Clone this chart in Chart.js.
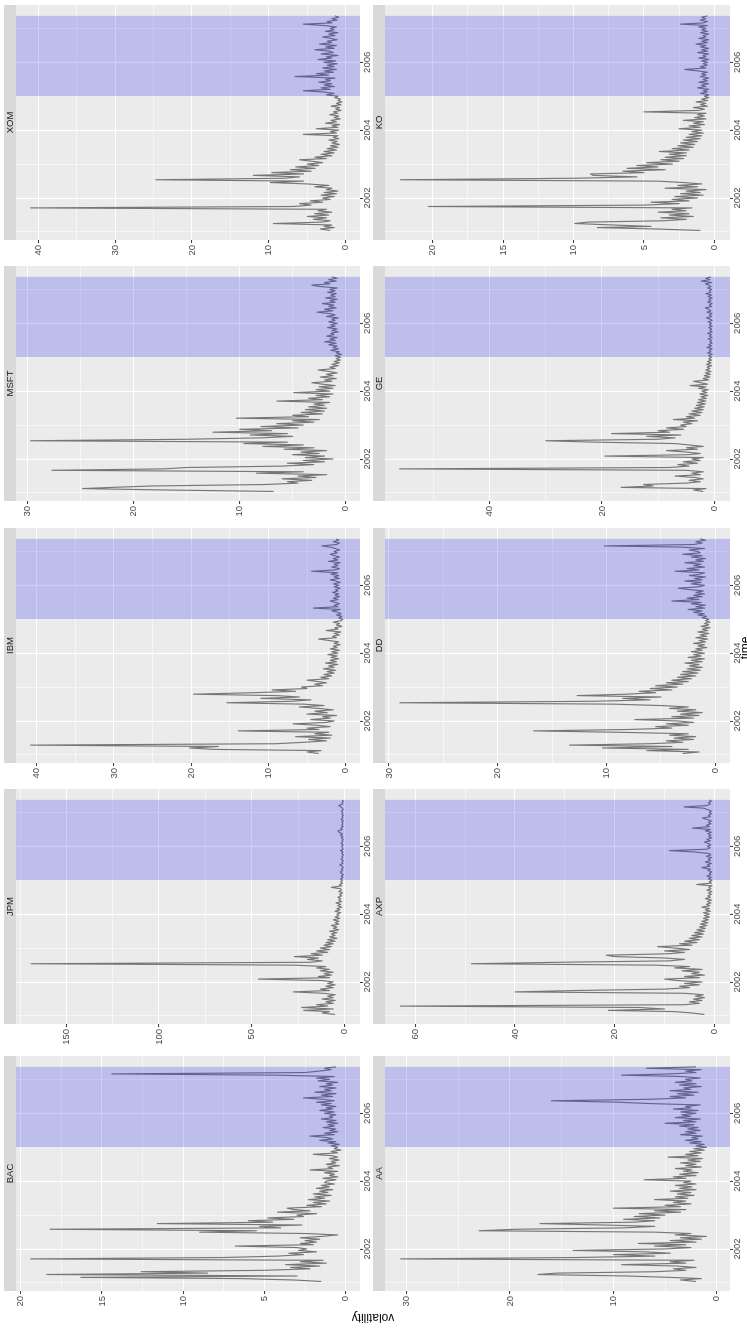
<!DOCTYPE html>
<html><head><meta charset="utf-8">
<script src="https://cdn.jsdelivr.net/npm/chart.js@4.4.1/dist/chart.umd.min.js"></script>
<style>
html,body{margin:0;padding:0;background:#fff;width:747px;height:1328px;overflow:hidden;}
#root{position:absolute;left:0;top:0;width:1328px;height:747px;transform-origin:0 0;transform:translate(0px,1328px) rotate(-90deg);background:#fff;overflow:hidden;}
#root canvas{position:absolute;}
.ttl{position:absolute;font-family:"Liberation Sans",Arial,sans-serif;font-size:12px;line-height:12px;color:#000;white-space:nowrap;text-align:center;}
</style></head><body>
<div id="root"></div>
<script>
// ---------- data ----------
const tickers = ["BAC","JPM","IBM","MSFT","XOM","AA","AXP","DD","GE","KO"];

const dates = [
"2001-01-16","2001-02-01","2001-02-16","2001-03-01","2001-03-16","2001-04-01","2001-04-16","2001-05-01","2001-05-16","2001-06-01","2001-06-16","2001-07-01","2001-07-16","2001-08-01","2001-08-16","2001-09-01","2001-09-16","2001-10-01","2001-10-16","2001-11-01","2001-11-16","2001-12-01","2001-12-16",
"2002-01-01","2002-01-16","2002-02-01","2002-02-16","2002-03-01","2002-03-16","2002-04-01","2002-04-16","2002-05-01","2002-05-16","2002-06-01","2002-06-16","2002-07-01","2002-07-16","2002-08-01","2002-08-16","2002-09-01","2002-09-16","2002-10-01","2002-10-16","2002-11-01","2002-11-16","2002-12-01","2002-12-16",
"2003-01-01","2003-01-16","2003-02-01","2003-02-16","2003-03-01","2003-03-16","2003-04-01","2003-04-16","2003-05-01","2003-05-16","2003-06-01","2003-06-16","2003-07-01","2003-07-16","2003-08-01","2003-08-16","2003-09-01","2003-09-16","2003-10-01","2003-10-16","2003-11-01","2003-11-16","2003-12-01","2003-12-16",
"2004-01-01","2004-01-16","2004-02-01","2004-02-16","2004-03-01","2004-03-16","2004-04-01","2004-04-16","2004-05-01","2004-05-16","2004-06-01","2004-06-16","2004-07-01","2004-07-16","2004-08-01","2004-08-16","2004-09-01","2004-09-16","2004-10-01","2004-10-16","2004-11-01","2004-11-16","2004-12-01","2004-12-16",
"2005-01-01","2005-01-16","2005-02-01","2005-02-16","2005-03-01","2005-03-16","2005-04-01","2005-04-16","2005-05-01","2005-05-16","2005-06-01","2005-06-16","2005-07-01","2005-07-16","2005-08-01","2005-08-16","2005-09-01","2005-09-16","2005-10-01","2005-10-16","2005-11-01","2005-11-16","2005-12-01","2005-12-16",
"2006-01-01","2006-01-16","2006-02-01","2006-02-16","2006-03-01","2006-03-16","2006-04-01","2006-04-16","2006-05-01","2006-05-16","2006-06-01","2006-06-16","2006-07-01","2006-07-16","2006-08-01","2006-08-16","2006-09-01","2006-09-16","2006-10-01","2006-10-16","2006-11-01","2006-11-16","2006-12-01","2006-12-16",
"2007-01-01","2007-01-16","2007-02-01","2007-02-16","2007-03-01","2007-03-16","2007-04-01","2007-04-16","2007-05-01","2007-05-16"
];

const BAC = [
1.5,3.2,6.4,16.3,3.0,18.4,8.5,12.6,5.0,2.2,3.4,1.6,3.7,1.2,2.8,1.4,19.4,7.5,4.2,2.6,3.5,1.8,2.9,
2.4,3.0,6.8,2.0,2.8,1.8,2.5,1.6,2.8,1.5,0.5,2.4,9.0,5.5,18.2,4.0,5.3,2.7,11.6,4.5,6.0,3.2,4.8,2.6,
3.0,1.8,4.2,2.2,3.2,3.6,1.5,2.4,1.2,2.0,1.0,2.3,1.3,1.9,0.9,2.0,1.1,1.6,0.8,1.8,1.0,1.5,0.7,1.3,
1.2,0.6,1.4,0.5,1.0,0.7,1.3,0.5,2.2,0.8,1.1,0.4,1.2,0.6,0.9,0.4,1.0,0.5,0.8,2.0,0.5,0.9,0.3,0.7,
0.5,0.9,0.4,1.1,0.6,1.6,0.8,1.2,2.2,0.7,1.3,0.5,1.0,0.6,1.4,0.7,1.1,0.5,1.2,0.6,1.5,0.8,1.0,0.6,
1.3,0.7,1.6,0.8,1.2,0.6,1.5,0.9,1.8,0.7,1.4,2.6,0.8,1.5,0.6,1.9,0.9,1.3,0.6,1.6,0.8,1.2,0.5,1.7,
1.0,1.8,0.7,4.3,14.4,2.5,1.6,0.9,1.3,0.6];

const JPM = [
5,12,8,22,6,23,9,15,6,10,5,12,6,9,5,11,27.5,8,13,6,10,5,9,
6,12,46.4,8,14,7,11,6,13,8,15,10,27,169,18,12,20,14,27,12,18,9,15,8,
13,7,11,6,10,5,9,4,8,5,7,4,8,3,6,4,7,3,5,3,6,2.5,5,3,
4,2,5,2.5,4,1.5,3.5,2,4.5,1.5,3,2,3.5,1.5,2.5,1,3,1.5,2,7,1.5,2.5,1,2,
1,2,0.8,1.6,0.7,1.4,2.2,0.9,1.5,0.6,1.2,2.4,0.8,1.3,0.6,1.8,0.9,1.2,0.5,1.5,0.8,2.0,0.7,1.1,
1.4,0.7,1.8,0.9,1.2,0.6,1.6,0.8,2.2,1.0,2.8,3.5,1.1,1.9,0.7,1.5,0.8,1.3,0.6,1.7,0.8,1.2,0.5,1.4,
0.9,1.5,0.6,1.2,1.8,3.0,0.8,1.3,0.6,1.0];

const IBM = [
3.5,5.0,3.2,17,20.2,16.5,40.8,9.0,5.5,2.5,4.8,2.0,6.5,1.8,4.0,2.2,13.9,3.5,5.0,2.0,3.8,6.8,2.5,
1.5,4.5,2.0,3.0,1.2,5.0,2.4,4.0,1.6,3.5,6.0,2.8,5.5,15.4,7.0,4.5,11.0,6.0,9.0,19.7,12.0,6.5,9.5,5.0,
5.7,3.0,4.0,2.5,3.6,5.0,2.2,3.2,1.8,2.8,1.5,2.4,1.3,2.9,1.5,2.2,1.0,2.6,1.2,2.0,0.9,1.9,1.1,2.3,
1.0,1.8,0.8,2.0,1.1,1.6,0.7,1.5,0.9,2.1,3.5,1.2,1.7,0.8,1.5,0.6,2.5,1.0,1.4,0.5,1.2,0.8,1.6,0.6,
0.4,0.9,0.5,1.2,0.6,1.0,1.8,0.7,4.2,1.0,1.5,0.8,1.3,2.0,1.0,1.6,0.8,1.4,0.9,1.7,1.0,1.3,0.7,1.5,
0.9,1.6,0.7,1.3,2.0,0.8,1.5,0.9,1.9,1.0,4.4,1.3,0.8,1.8,1.0,1.5,0.7,2.2,1.0,1.6,0.8,1.4,2.0,1.1,
1.5,0.8,1.3,2.0,3.1,1.2,0.8,1.6,0.9,1.2];

const MSFT = [
6.8,16.9,24.8,22.0,18.3,7.5,4.5,5.5,3.2,6.0,2.8,4.5,1.8,8.4,4.0,27.7,17.2,15.0,6.0,3.0,5.5,2.0,4.0,
1.2,3.8,2.0,5.0,2.5,4.2,1.8,5.8,3.0,7.8,4.0,9.6,5.5,29.7,15.0,8.0,5.0,9.0,5.5,12.5,7.0,10.0,4.5,8.0,
4.0,6.5,3.0,5.0,2.5,10.3,3.5,5.0,2.2,4.2,2.0,3.8,1.8,3.5,2.0,3.0,1.5,6.5,2.2,3.5,1.5,2.8,1.2,4.9,
1.5,2.8,1.2,2.5,1.0,2.2,3.2,1.3,2.0,0.9,2.4,1.2,1.8,0.8,1.6,2.6,1.0,1.5,0.7,1.3,0.6,1.1,0.5,0.9,
0.5,1.0,0.4,0.9,0.6,1.4,0.7,1.2,0.8,1.6,0.9,2.0,1.0,1.5,0.8,1.8,1.1,1.4,0.7,1.3,0.8,1.7,1.0,1.4,
0.8,1.6,1.0,1.3,0.7,1.8,1.0,1.5,2.7,1.2,2.0,0.9,1.6,1.1,2.2,1.0,1.5,0.8,1.9,1.0,1.4,0.9,1.7,1.0,
1.5,0.8,2.4,3.2,1.5,2.0,0.9,1.6,0.8,1.3];

const XOM = [
2.0,3.3,1.5,2.8,1.8,9.4,3.0,2.0,4.2,2.5,5.0,2.2,4.0,1.8,3.6,2.5,41,6.8,4.5,6.0,3.0,4.6,2.0,
3.0,1.5,3.2,1.2,2.8,1.0,2.5,1.8,4.0,2.2,5.0,9.8,5.5,24.7,8.0,6.0,12.0,5.5,9.6,4.5,7.2,4.0,6.5,3.5,
5.0,3.0,4.5,6.0,2.5,4.0,1.8,3.2,1.5,2.8,1.2,2.4,1.0,2.0,0.8,1.8,1.1,2.2,0.9,1.6,1.0,5.5,1.2,2.0,
0.9,3.8,1.0,1.8,0.8,2.6,1.2,1.9,0.7,1.5,0.9,2.1,1.0,1.6,0.6,1.3,0.8,1.9,0.6,1.2,0.5,1.0,0.7,1.4,
1.0,2.5,1.5,3.0,5.5,2.0,3.2,1.5,2.8,1.8,3.5,2.0,2.6,1.4,6.6,2.2,3.8,1.6,2.8,1.2,3.0,1.5,2.4,1.1,
2.8,1.3,3.6,1.8,2.5,1.0,3.2,1.6,2.2,4.0,1.5,2.6,1.2,3.4,1.8,2.4,1.1,2.0,3.0,1.4,2.2,1.0,2.6,1.5,
2.0,1.2,2.8,5.5,1.8,2.4,1.1,1.8,0.9,1.4];

const AA = [
2.0,3.5,1.5,4.5,8.7,17.3,15.5,6.0,3.0,4.2,2.0,3.8,9.2,3.0,4.5,2.2,30.6,13.5,6.0,10.0,4.5,7.0,13.9,
5.0,2.5,6.0,3.0,7.6,2.0,4.5,1.5,3.5,1.0,4.0,2.5,6.0,23.0,19.5,9.0,6.0,11.0,17.1,8.0,6.0,9.0,5.5,8.0,
5.0,7.5,3.5,6.0,3.0,10.0,3.5,5.0,2.5,4.2,3.0,6.0,2.8,4.0,2.2,3.8,2.5,4.5,2.0,3.6,2.4,4.0,2.0,3.2,
2.5,7.0,3.0,4.2,2.0,3.6,1.8,3.2,2.4,4.0,1.5,3.0,2.0,3.5,1.6,2.8,1.4,4.7,1.8,3.0,1.5,2.6,1.2,2.2,
1.0,2.0,1.2,2.6,1.5,3.0,1.8,2.4,1.4,3.5,2.0,3.0,1.6,2.8,1.8,3.6,2.2,5.0,2.0,3.2,1.6,4.0,2.5,3.4,
2.0,3.5,1.8,4.2,2.5,3.0,1.6,6.5,9.7,16.0,6.5,3.0,4.5,2.2,3.8,1.8,4.5,2.5,3.2,1.5,3.6,2.0,4.0,2.4,
3.0,1.6,3.4,9.2,4.5,2.0,3.0,1.5,6.8,2.0];

const AXP = [
2.0,4.5,8.0,21.3,10.0,15.0,63.0,6.0,3.0,5.0,2.5,4.2,2.0,3.8,2.2,6.0,40.0,27.6,10.0,5.0,7.0,3.0,6.0,
2.5,7.5,10.0,3.0,6.0,2.0,4.5,3.0,6.5,2.5,8.0,5.0,12.0,48.8,31.0,9.0,6.0,10.0,20.0,21.7,9.0,6.0,10.0,5.0,
8.0,11.4,4.5,7.0,3.5,6.0,3.0,5.0,2.5,4.5,2.2,4.0,2.0,3.5,1.8,3.0,1.5,2.8,1.3,2.5,1.2,2.2,1.0,2.0,
1.0,2.2,0.8,1.8,1.0,2.5,0.9,1.6,0.7,1.4,0.6,1.8,0.8,1.3,0.6,1.2,0.5,1.5,0.7,1.1,0.5,3.5,0.6,1.0,
0.5,1.2,0.6,1.5,0.7,1.0,0.5,1.3,0.8,2.5,0.9,1.4,0.6,1.8,0.8,1.2,0.6,1.6,0.7,1.1,3.9,9.0,1.5,0.8,
1.4,0.7,1.2,2.0,0.8,1.5,0.6,1.1,0.7,1.3,0.6,1.8,0.8,4.4,1.0,1.6,0.7,1.2,0.6,1.4,2.4,0.8,1.2,0.6,
1.0,0.6,1.4,2.2,6.1,1.5,0.8,1.2,0.6,1.0];

const DD = [
3.0,1.5,6.3,2.5,10.4,4.0,13.4,6.0,3.0,4.5,2.0,3.8,1.8,4.2,2.5,8.8,16.7,8.0,4.0,5.5,2.5,4.5,2.0,
3.5,7.4,2.0,4.0,1.5,3.2,1.2,3.5,1.8,4.2,2.5,5.0,9.4,29.0,11.2,6.0,8.5,5.0,12.7,8.2,5.5,7.0,4.0,6.0,
3.5,5.5,3.0,4.5,2.5,4.0,2.2,3.5,1.8,3.2,1.6,3.0,1.4,2.6,1.2,2.4,1.5,2.8,1.2,2.2,1.0,2.5,1.3,2.0,
1.0,2.2,1.2,1.8,0.8,1.6,1.0,2.0,0.9,1.5,0.7,1.8,0.8,1.4,0.6,1.6,0.7,1.2,0.5,1.3,0.6,1.0,0.5,0.9,
0.6,1.2,0.8,1.6,1.0,2.0,1.2,2.5,1.0,1.8,0.9,2.2,1.3,4.0,1.5,2.6,1.2,2.0,1.0,1.8,1.1,2.4,3.4,1.5,
1.0,2.2,1.3,2.8,1.2,1.9,0.9,2.4,1.4,1.0,3.7,1.5,2.6,1.0,2.0,1.3,2.8,1.1,1.8,0.9,2.2,1.2,3.0,1.4,
1.6,2.4,1.0,3.1,10.2,2.0,1.2,1.8,0.9,1.4];

const GE = [
2.0,3.7,1.5,16.6,10.9,12.6,5.0,2.5,4.5,2.0,3.5,7.0,2.5,4.0,2.0,5.0,56.0,8.0,4.5,6.5,3.0,5.5,2.5,
4.0,2.0,19.5,4.5,2.5,5.0,8.5,3.0,5.0,2.0,4.5,7.0,21.5,30.0,10.0,7.0,12.0,6.0,18.3,8.0,10.0,5.5,8.5,5.0,
6.0,4.0,5.5,3.0,7.3,3.5,5.0,2.5,4.5,2.2,4.0,2.0,3.5,1.8,3.2,1.6,3.0,1.5,2.8,1.4,2.4,1.2,2.6,1.3,
2.2,1.1,2.8,1.5,4.3,1.2,2.4,3.7,1.0,2.0,0.8,1.8,0.7,1.6,0.6,1.5,0.8,1.3,0.5,1.4,0.6,1.2,0.5,1.0,
0.5,1.0,0.4,1.2,0.6,0.9,0.4,1.3,0.5,1.0,0.4,0.8,0.5,1.1,0.4,0.9,0.5,1.2,0.4,0.8,0.5,1.0,0.4,0.9,
0.5,1.1,0.4,0.8,1.4,0.5,0.9,0.4,1.3,0.6,1.0,1.6,0.5,0.9,0.4,1.2,0.6,1.0,0.4,1.1,0.5,1.5,0.6,0.9,
0.5,1.2,0.6,1.0,1.6,0.5,2.3,0.8,1.5,0.6];

const KO = [
1.0,4.1,8.3,4.5,7.2,9.9,9.0,3.5,2.0,3.8,1.5,3.2,1.8,4.0,2.0,3.0,1.6,20.3,5.0,2.5,4.5,1.8,3.0,
1.2,2.8,0.8,2.4,1.0,2.0,0.6,3.5,1.2,2.6,0.9,2.2,4.0,22.3,10.0,5.5,8.6,8.8,5.0,6.5,3.5,6.2,4.0,5.5,
3.0,4.8,2.5,3.8,2.2,3.5,2.0,3.2,2.0,3.9,1.8,3.0,1.5,2.6,1.4,2.4,1.2,2.2,1.0,2.0,0.9,1.8,0.8,1.6,
0.9,2.5,1.0,1.8,0.7,1.5,0.8,2.2,0.6,1.4,0.7,1.2,0.6,5.0,1.1,0.7,1.5,0.5,1.0,0.6,1.3,0.5,0.9,0.4,
0.7,0.4,1.0,0.5,0.8,0.4,1.2,0.6,0.9,0.4,1.1,0.5,0.8,0.4,1.0,0.6,0.9,0.5,1.2,2.1,0.6,1.0,0.5,0.8,
0.5,0.9,0.4,1.1,0.6,0.8,0.4,1.2,0.5,0.9,0.4,1.0,0.6,1.3,0.5,0.9,0.4,1.1,0.6,0.8,0.4,1.0,0.5,0.9,
0.6,1.1,0.5,2.4,0.8,0.5,1.0,0.6,0.9,0.5];

const seriesByTicker = {BAC, JPM, IBM, MSFT, XOM, AA, AXP, DD, GE, KO};

// axis limits and tick labels
const yLow  = [-0.88, -8.45, -1.86, -1.35, -1.87, -1.29, -3.14, -1.35, -2.79, -1.11];
const yHigh = [20.29, 177.2, 42.7, 31.07, 42.9, 32.1, 66.1, 30.37, 58.6, 23.38];
const yMajorTicks = [[0,5,10,15,20],[0,50,100,150],[0,10,20,30,40],[0,10,20,30],[0,10,20,30,40],
                     [0,10,20,30],[0,20,40,60],[0,10,20,30],[0,20,40],[0,5,10,15,20]];
const yMinorTicks = [[2.5,7.5,12.5,17.5],[25,75,125,175],[5,15,25,35],[5,15,25],[5,15,25,35],
                     [5,15,25],[10,30,50],[5,15,25],[10,30,50],[2.5,7.5,12.5,17.5]];
const xMajorTicks = [2002, 2004, 2006];
const xMinorTicks = [2001, 2003, 2005, 2007];
const xLow = 2000.76, xHigh = 2007.69;
const bandStart = "2005-01-01";

// ---------- layout (original landscape frame, rotated afterwards) ----------
const colLeft = [37, 304, 565, 827, 1088];
const axisW   = [37, 32, 26, 27, 26];
const panelW  = 235;
const stripTop = [4, 373];
const panelBottom = [360, 730];
const STRIP = 12, XAXIS_H = 14, PAD_R = 3;
const FONT = '"Liberation Sans", Arial, Helvetica, sans-serif';

function decYear(s){
  const [y,m,d] = s.split('-').map(Number);
  const a = Date.UTC(y,0,1), b = Date.UTC(y+1,0,1);
  return y + (Date.UTC(y,m-1,d) - a) / (b - a);
}
const tYears = dates.map(decYear);

const panelPlugin = {
  id: 'panel',
  beforeDraw(chart, args, opts){
    const {ctx, chartArea:a} = chart;
    ctx.save();
    ctx.fillStyle = '#ebebeb';
    ctx.fillRect(a.left, a.top, a.right - a.left, a.bottom - a.top);
    ctx.fillStyle = '#d9d9d9';
    ctx.fillRect(a.left, a.top - STRIP, a.right - a.left, STRIP);
    ctx.fillStyle = '#1a1a1a';
    ctx.font = '9.5px ' + FONT;
    ctx.textAlign = 'center';
    ctx.textBaseline = 'middle';
    ctx.fillText(opts.name, (a.left + a.right) / 2, a.top - STRIP / 2 + 0.5);
    ctx.restore();
  },
  afterDatasetsDraw(chart, args, opts){
    const {ctx, chartArea:a, scales} = chart;
    const x0 = scales.x.getPixelForValue(opts.bandFrom);
    const x1 = scales.x.getPixelForValue(opts.bandTo);
    ctx.save();
    ctx.fillStyle = 'rgba(30,30,230,0.22)';
    ctx.fillRect(x0, a.top, x1 - x0, a.bottom - a.top);
    ctx.restore();
  }
};

const root = document.getElementById('root');

tickers.forEach((name, i) => {
  const row = Math.floor(i / 5), col = i % 5;
  const aw = axisW[col];
  const left = colLeft[col] - aw;
  const top = stripTop[row];
  const w = aw + panelW + PAD_R;
  const h = panelBottom[row] - stripTop[row] + XAXIS_H;
  const cv = document.createElement('canvas');
  cv.width = w; cv.height = h;
  cv.style.left = left + 'px'; cv.style.top = top + 'px';
  cv.style.width = w + 'px'; cv.style.height = h + 'px';
  root.appendChild(cv);

  const vals = seriesByTicker[name];
  if (vals.length !== dates.length) console.error(name + ' length ' + vals.length + ' vs ' + dates.length);
  const n = Math.min(vals.length, dates.length);
  const pts = [];
  for (let k = 0; k < n; k++) pts.push({x: tYears[k], y: vals[k]});

  const yMaj = yMajorTicks[i], yMin = yMinorTicks[i];
  const yAll = yMaj.concat(yMin).sort((a,b) => a - b);
  const xAll = xMajorTicks.concat(xMinorTicks).sort((a,b) => a - b);
  const isYMaj = v => yMaj.indexOf(v) >= 0;
  const isXMaj = v => xMajorTicks.indexOf(v) >= 0;

  new Chart(cv.getContext('2d'), {
    type: 'line',
    data: { datasets: [{
      data: pts, borderColor: '#767676', borderWidth: 1.15, pointRadius: 0,
      tension: 0, fill: false, borderJoinStyle: 'round'
    }]},
    options: {
      responsive: false, animation: false, events: [],
      layout: { padding: { top: STRIP, right: PAD_R, left: 0, bottom: 0 } },
      plugins: {
        legend: { display: false }, tooltip: { enabled: false }, title: { display: false },
        panel: { name: name, bandFrom: decYear(bandStart), bandTo: tYears[n - 1] }
      },
      scales: {
        x: {
          type: 'linear', min: xLow, max: xHigh,
          afterBuildTicks: s => { s.ticks = xAll.map(v => ({value: v})); },
          afterFit: s => { s.height = XAXIS_H; },
          border: { display: false },
          grid: {
            color: '#ffffff',
            lineWidth: c => (c.tick && isXMaj(c.tick.value)) ? 1.1 : 0.55,
            tickColor: c => (c.tick && isXMaj(c.tick.value)) ? '#333333' : 'rgba(0,0,0,0)',
            tickLength: 3, tickWidth: 1
          },
          ticks: {
            autoSkip: false, maxRotation: 0, minRotation: 0, padding: -1,
            color: '#4d4d4d', font: { family: FONT, size: 9.5 },
            callback: v => isXMaj(v) ? String(v) : ''
          }
        },
        y: {
          type: 'linear', min: yLow[i], max: yHigh[i],
          afterBuildTicks: s => { s.ticks = yAll.map(v => ({value: v})); },
          afterFit: s => { s.width = aw; },
          border: { display: false },
          grid: {
            color: '#ffffff',
            lineWidth: c => (c.tick && isYMaj(c.tick.value)) ? 1.1 : 0.55,
            tickColor: c => (c.tick && isYMaj(c.tick.value)) ? '#333333' : 'rgba(0,0,0,0)',
            tickLength: 3, tickWidth: 1
          },
          ticks: {
            autoSkip: false, padding: 2,
            color: '#4d4d4d', font: { family: FONT, size: 9.5 },
            callback: v => isYMaj(v) ? String(v) : ''
          }
        }
      }
    },
    plugins: [panelPlugin]
  });
});

// shared axis titles
const xt = document.createElement('div');
xt.className = 'ttl'; xt.textContent = 'time';
xt.style.left = '580px'; xt.style.top = '739px'; xt.style.width = '200px';
root.appendChild(xt);
const yt = document.createElement('div');
yt.className = 'ttl'; yt.textContent = 'volatility';
yt.style.left = '-90px'; yt.style.top = '367px'; yt.style.width = '200px'; yt.style.height = '12px';
yt.style.transformOrigin = '100px 6px'; yt.style.transform = 'rotate(-90deg)';
root.appendChild(yt);
</script>
</body></html>
